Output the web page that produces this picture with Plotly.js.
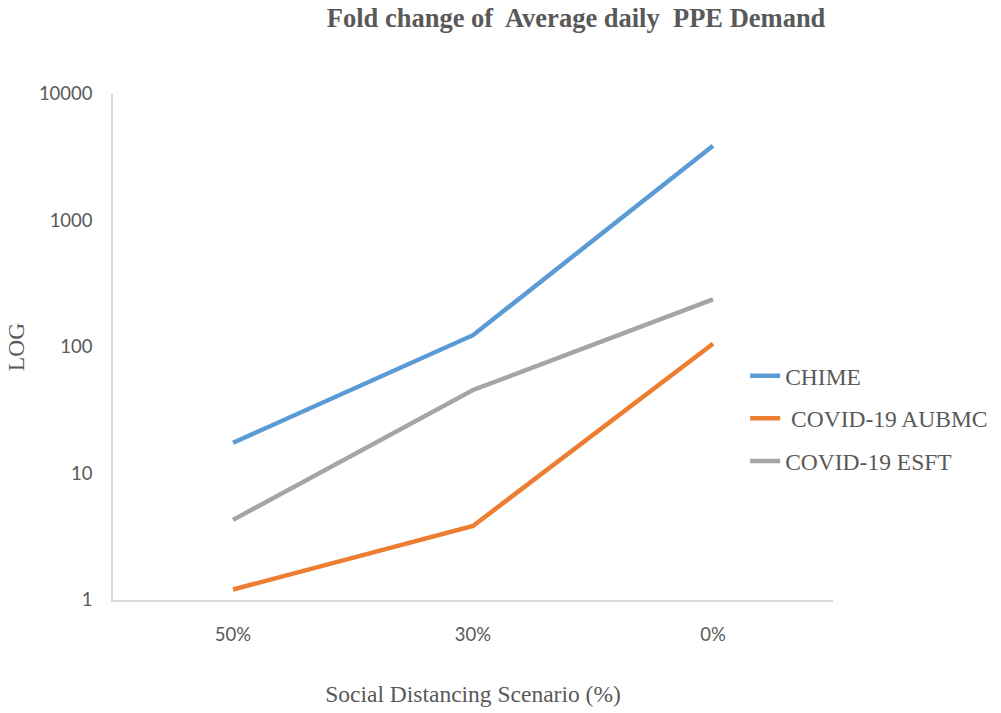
<!DOCTYPE html>
<html>
<head>
<meta charset="utf-8">
<script src="https://cdn.plot.ly/plotly-3.0.1.min.js"></script>
<style>html,body{margin:0;padding:0;background:#fff;}#chart{width:1001px;height:713px;}</style>
</head>
<body>
<div id="chart"></div>
<script>
const categories = ["50%", "30%", "0%"];
const chime = [17.5, 124, 3900];
const aubmc = [1.21, 3.85, 106];
const esft = [4.3, 45.7, 238];
const seriesNames = ["CHIME", " COVID-19 AUBMC", "COVID-19 ESFT"];
const yTickVals = [1, 10, 100, 1000, 10000];
const yTickText = ["1", "10", "100", "1000", "10000"];

const colors = ["#5b9bd5", "#ed7d31", "#a5a5a5"];
const series = [chime, aubmc, esft];
const traces = series.map((vals, i) => ({
  x: categories,
  y: vals,
  name: seriesNames[i],
  type: "scatter",
  mode: "lines",
  legendgroup: "g" + i,
  line: {color: colors[i], width: 4.5}
}));

const serif = "Liberation Serif, Times New Roman, serif";
const sans = "Lato, Open Sans, sans-serif";

const layout = {
  width: 1001, height: 713,
  paper_bgcolor: "#fff", plot_bgcolor: "#fff",
  margin: {l: 113, r: 168, t: 94, b: 113, autoexpand: false},
  title: {
    text: "<b>Fold change of  Average daily  PPE Demand</b>",
    font: {family: serif, size: 26.5, color: "#595959"},
    x: 0.5755, xanchor: "center", xref: "container",
    y: 0.975, yanchor: "middle", yref: "container"
  },
  xaxis: {
    type: "category",
    range: [-0.5, 2.5],
    showgrid: false, zeroline: false,
    showline: true, linecolor: "#d9d9d9", linewidth: 1.5,
    ticks: "outside", ticklen: 17, tickcolor: "rgba(0,0,0,0)",
    tickfont: {family: sans, size: 18.5, color: "#595959"},
    title: {text: "Social Distancing Scenario (%)", standoff: 42,
      font: {family: serif, size: 23.5, color: "#595959"}}
  },
  yaxis: {
    type: "log",
    range: [0, 4],
    tickvals: yTickVals, ticktext: yTickText,
    showgrid: false, zeroline: false,
    showline: true, linecolor: "#d9d9d9", linewidth: 1.5,
    ticks: "outside", ticklen: 15, tickcolor: "rgba(0,0,0,0)",
    tickfont: {family: sans, size: 18.5, color: "#595959"},
    title: {text: "LOG", standoff: 8,
      font: {family: serif, size: 23.5, color: "#595959"}}
  },
  showlegend: true,
  legend: {
    x: 0.878, xanchor: "left", xref: "paper",
    y: 0.5, yanchor: "top",
    font: {family: serif, size: 23.5, color: "#595959"},
    traceorder: "grouped", tracegroupgap: 9,
    bgcolor: "rgba(0,0,0,0)"
  }
};
layout.legend.y = 1 - (354 - 94) / (713 - 94 - 113);

Plotly.newPlot("chart", traces, layout, {displayModeBar: false});
</script>
</body>
</html>
